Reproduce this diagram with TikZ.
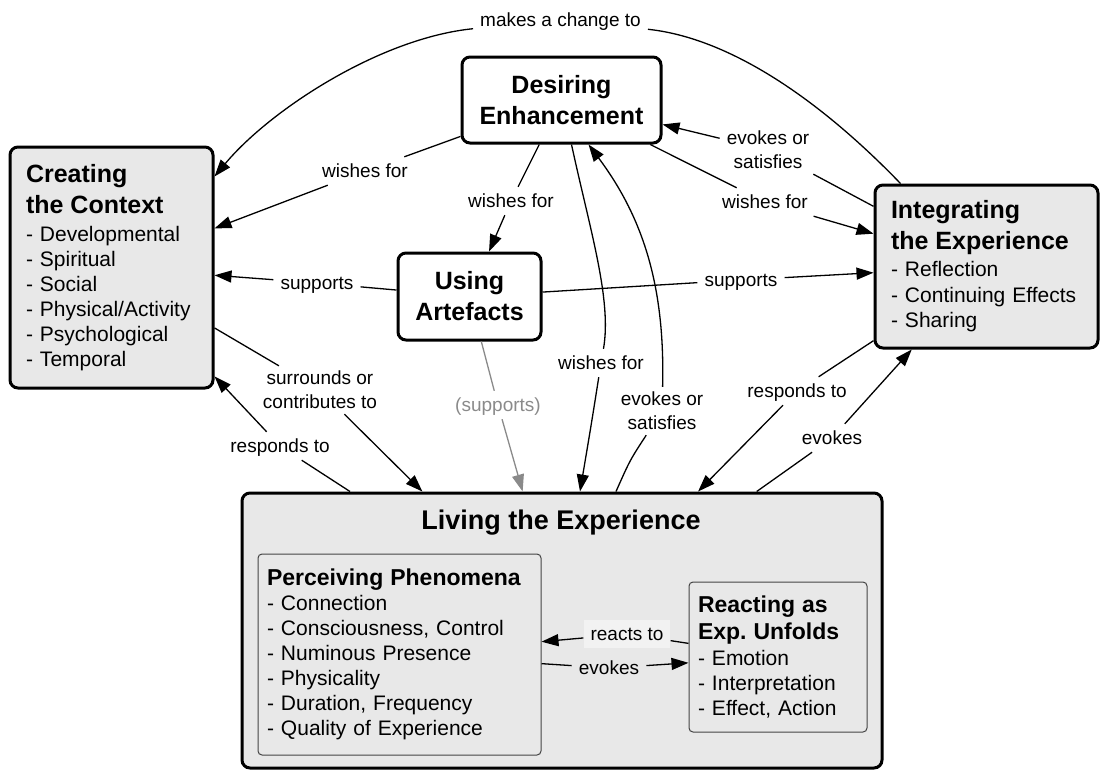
\documentclass[tikz,border=0pt]{standalone}
\usepackage{fontspec}
\setmainfont{Liberation Sans}
\usetikzlibrary{arrows.meta}
\definecolor{boxgray}{HTML}{E8E8E8}
\definecolor{lblgray}{HTML}{F2F2F2}
\definecolor{supgray}{HTML}{8A8A8A}
\definecolor{innerline}{HTML}{444444}
\newcommand\lblfont{\fontsize{19}{24}\selectfont}
\newcommand\itemfont{\fontsize{21}{25}\selectfont}
\newcommand\ttlfont{\fontsize{25}{31}\selectfont\bfseries}
\newcommand\subttlfont{\fontsize{23}{27}\selectfont\bfseries}
\begin{document}
\begin{tikzpicture}[x=1pt,y=-1pt,
  mainbox/.style={draw=black, line width=3pt, rounded corners=8pt, inner xsep=16pt, inner ysep=3pt, align=left, font=\itemfont},
  graybox/.style={mainbox, fill=boxgray},
  whitebox/.style={mainbox, fill=white, align=center, inner xsep=6pt},
  innerbox/.style={draw=innerline, line width=1pt, rounded corners=4pt, fill=boxgray, inner xsep=9pt, inner ysep=3pt, align=left, font=\itemfont},
  lbl/.style={font=\lblfont, inner xsep=7pt, inner ysep=6pt, text height=14pt, text depth=2pt},
  lbltwo/.style={font=\lblfont, inner xsep=7pt, inner ysep=5pt, align=center},
  conn/.style={line width=1.3pt, draw=black},
  arr/.style={conn, -{Triangle[length=17pt,width=12pt]}},
]
\useasboundingbox (0,0) rectangle (1103,772);

% main boxes
\node[graybox, minimum width=203pt, minimum height=241pt, text width=171pt] (CC) at (111.5,267.5)
  {{\ttlfont Creating\\[6pt]the Context}\\[3pt]- Developmental\\- Spiritual\\- Social\\- Physical/Activity\\- Psychological\\- Temporal};
\node[graybox, minimum width=223pt, minimum height=163pt, text width=191pt] (IE) at (986.5,266.5)
  {{\ttlfont Integrating\\[6pt]the Experience}\\[2pt]- Reflection\\[0.5pt]- Continuing Effects\\[0.5pt]- Sharing};
\node[whitebox, minimum width=199pt, minimum height=86pt, text width=187pt, font=\ttlfont] (DE) at (561.5,100) {Desiring\\Enhancement};
\node[whitebox, minimum width=143pt, minimum height=87pt, text width=131pt, font=\ttlfont] (UA) at (469.5,296.5) {Using\\Artefacts};
\node[graybox, minimum width=640pt, minimum height=275pt] (LE) at (562,630.5) {};
\node[font=\fontsize{27}{32}\selectfont\bfseries] (LEt) at (561,523) {Living the Experience};
\node[innerbox, minimum width=283pt, minimum height=201pt, text width=265pt] (PP) at (399.5,654.5)
  {{\subttlfont Perceiving Phenomena}\\[0.6pt]- Connection\\- Consciousness, Control\\- Numinous Presence\\- Physicality\\- Duration, Frequency\\- Quality of Experience};
\node[innerbox, minimum width=178pt, minimum height=150pt, text width=160pt] (RE) at (778,657)
  {{\subttlfont Reacting as\\[2pt]Exp.\ Unfolds}\\[1pt]- Emotion\\- Interpretation\\- Effect, Action};

% labels
\node[lbl] (Lmc) at (560.5,20) {makes a change to};
\node[lbl] (Lw1) at (365,171) {wishes for};
\node[lbl] (Lw2) at (511,201) {wishes for};
\node[lbl] (Lw3) at (601,363) {wishes for};
\node[lbl] (Lw4) at (765,202) {wishes for};
\node[lbltwo] (Les1) at (662,411) {evokes or\\satisfies};
\node[lbltwo] (Les2) at (768,150) {evokes or\\satisfies};
\node[lbl] (Ls1) at (317,283) {supports};
\node[lbl] (Ls2) at (741,280) {supports};
\node[lbltwo] (Lsc) at (320,390) {surrounds or\\contributes to};
\node[lbl] (Lr1) at (280,446) {responds to};
\node[lbl, text=supgray] (Lsp) at (498,405) {(supports)};
\node[lbl] (Lr2) at (797,391) {responds to};
\node[lbl] (Lev) at (832,438) {evokes};
\node[lbl, fill=lblgray] (Lrt) at (627,634) {reacts to};
\node[lbl] (Lev2) at (609,668) {evokes};

% connectors
\draw[arr] ([xshift=27pt]IE.north west) .. controls (820,100) and (730,38) .. (Lmc)
  .. controls (380,38) and (270,110) .. ([yshift=-31pt]CC.north east);
\draw[arr] (DE) -- (Lw1) -- (CC);
\draw[arr] (DE) -- (Lw2) -- (UA);
\draw[arr] ([xshift=10pt]DE.south) .. controls (590,230) and (612,300) .. (Lw3)
  .. controls (592,420) .. ([xshift=18pt]LE.north);
\draw[arr] ([xshift=54pt]LE.north) .. controls (630,460) .. (Les1)
  .. controls (665,290) and (645,220) .. ([xshift=27pt]DE.south);
\draw[arr] (DE) -- (Lw4) -- (IE);
\draw[arr] (IE) -- (Les2) -- (DE);
\draw[arr] (UA) -- (Ls1) -- (CC);
\draw[arr] (UA) -- (Ls2) -- (IE);
\draw[arr] (CC) -- (Lsc) -- (LE);
\draw[arr] (LE) -- (Lr1) -- (CC);
\draw[arr, draw=supgray] (UA) -- (Lsp) -- (LE);
\draw[arr] (IE) -- (Lr2) -- (LE);
\draw[arr] (LE) -- (Lev) -- (IE);
\draw[arr] (RE) -- (Lrt) -- (PP);
\draw[arr] (PP) -- (Lev2) -- (RE);
\end{tikzpicture}
\end{document}
